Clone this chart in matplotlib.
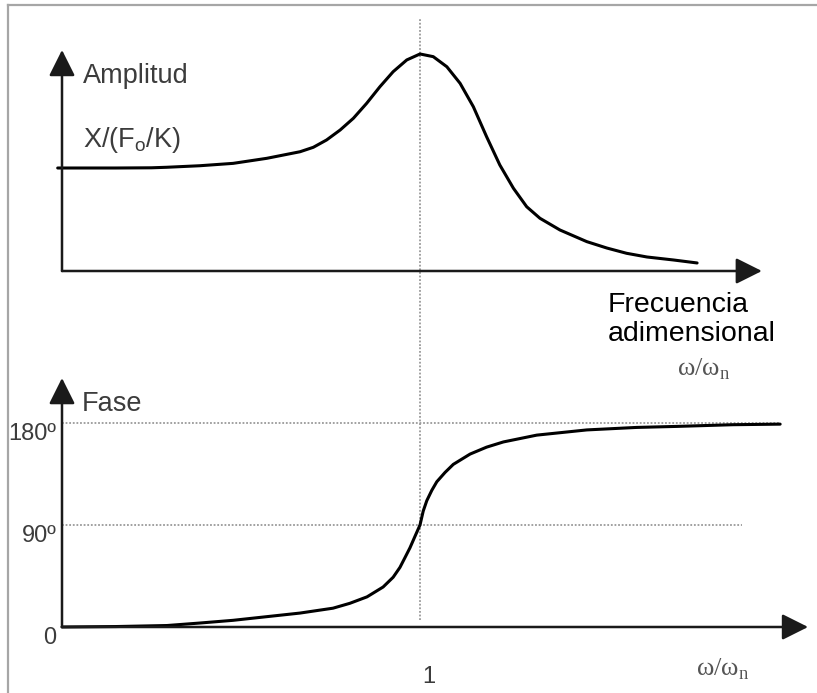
import numpy as np
import matplotlib.pyplot as plt
from matplotlib.lines import Line2D

plt.rcParams['font.family'] = ['Liberation Sans', 'DejaVu Sans']
plt.rcParams['mathtext.fontset'] = 'custom'
plt.rcParams['mathtext.rm'] = 'Liberation Serif'
plt.rcParams['mathtext.sf'] = 'Liberation Sans'

# amplitude X/(Fo/K) against omega/omega_n
amp_w = [-0.012, 0.15, 0.25, 0.292, 0.385, 0.478, 0.572, 0.665, 0.702, 0.739,
         0.777, 0.814, 0.851, 0.888, 0.925, 0.963, 1.0, 1.037, 1.075, 1.112,
         1.149, 1.186, 1.223, 1.261, 1.298, 1.335, 1.391, 1.466, 1.522, 1.577,
         1.634, 1.708, 1.774]
amp_x = [1.0, 1.0, 1.002, 1.007, 1.022, 1.045, 1.094, 1.158, 1.201, 1.272,
         1.369, 1.483, 1.628, 1.789, 1.935, 2.049, 2.107, 2.081, 1.983, 1.822,
         1.595, 1.304, 1.029, 0.803, 0.624, 0.512, 0.398, 0.285, 0.223, 0.172,
         0.136, 0.107, 0.078]

# phase angle in degrees
fase_w = [0.0, 0.15, 0.293, 0.385, 0.478, 0.665, 0.757, 0.804, 0.852, 0.897,
          0.925, 0.944, 0.958, 0.972, 0.986, 1.0, 1.009, 1.019, 1.033, 1.047,
          1.070, 1.093, 1.14, 1.186, 1.233, 1.326, 1.466, 1.605, 1.717, 1.874,
          2.006]
fase_deg = [0.0, 0.4, 1.3, 3.5, 5.9, 12.3, 16.6, 20.9, 26.6, 35.3,
            43.9, 52.6, 61.2, 69.9, 80.0, 90.0, 102.3, 111.5, 120.6, 128.2,
            136.4, 143.5, 152.6, 158.7, 163.3, 169.3, 173.9, 176.1, 177.0, 178.5,
            179.0]

fase_ticks = [0, 90, 180]
fase_labels = ['0', '90º', '180º']

W, H = 817, 693
fig = plt.figure(figsize=(W / 100, H / 100), dpi=100)

def px(x, y):
    return x / W, 1 - y / H

ink = '#1a1a1a'
grey_txt = '#3c3c3c'
grid_kw = dict(color='#9a9a9a', lw=1.3, ls=(0, (1, 1)))
arrow_kw = dict(arrowstyle='-|>,head_length=1.0,head_width=0.5', mutation_scale=16,
                lw=1.8, color=ink, shrinkA=0, shrinkB=0)

# top panel: amplitude
ax1 = fig.add_axes([0, 347 / H, 1, 346 / H])
ax1.set_xlim(-62 / 358, (W - 62) / 358)
ax1.set_ylim((271 - 346) / 103, 271 / 103)
ax1.axis('off')
ax1.axvline(1, ymin=0, ymax=0.948, **grid_kw)
ax1.annotate('', xy=(1.955, 0), xytext=(0, 0), arrowprops=arrow_kw)
ax1.annotate('', xy=(0, 2.146), xytext=(0, 0), arrowprops=arrow_kw)
ax1.plot(amp_w, amp_x, color='black', lw=2.2, solid_capstyle='round',
         solid_joinstyle='round')

# bottom panel: phase
ax2 = fig.add_axes([0, 0, 1, 347 / H])
ax2.set_xlim(-62 / 358, (W - 62) / 358)
ax2.set_ylim((627 - 693) / 1.1333, (627 - 346) / 1.1333)
ax2.axis('off')
ax2.axvline(1, ymin=0.21, ymax=1, **grid_kw)
ax2.plot([0, 2.006], [180, 180], **grid_kw)
ax2.plot([0, 1.9], [90, 90], **grid_kw)
ax2.annotate('', xy=(2.084, 0), xytext=(0, 0), arrowprops=arrow_kw)
ax2.annotate('', xy=(0, 219.7), xytext=(0, 0), arrowprops=arrow_kw)
ax2.plot(fase_w, fase_deg, color='black', lw=2.2, solid_capstyle='round',
         solid_joinstyle='round')
for t, lab in zip(fase_ticks, fase_labels):
    ax2.annotate(lab, xy=(0, t), xytext=(-4, -12), textcoords='offset points',
                 ha='right', va='baseline', fontsize=17, color=grey_txt)
ax2.annotate('1', xy=(1, 0), xytext=(6, -40), textcoords='offset points',
             ha='center', va='baseline', fontsize=17, color=grey_txt)

# labels
omega = r'$\mathrm{ω/ω}_{\mathrm{n}}$'
fig.text(*px(83, 83), 'Amplitud', fontsize=19.5, color=grey_txt, va='baseline')
fig.text(*px(83, 147), r'$\mathsf{X/(F}_{\mathsf{o}}\mathsf{/K)}$', fontsize=19.5,
         color=grey_txt, va='baseline')
fig.text(*px(608, 312), 'Frecuencia', fontsize=20.5, color='black', va='baseline')
fig.text(*px(608, 341), 'adimensional', fontsize=20.5, color='black', va='baseline')
fig.text(*px(677, 375), omega, fontsize=19, color='#555555', va='baseline')
fig.text(*px(82, 411), 'Fase', fontsize=19.5, color=grey_txt, va='baseline')
fig.text(*px(696, 675), omega, fontsize=19, color='#555555', va='baseline')

# outer frame (left and top edges only)
frame_kw = dict(color='#a6a6a6', lw=1.6, transform=fig.transFigure)
fig.add_artist(Line2D([8 / W, 8 / W], [0, 1 - 5 / H], **frame_kw))
fig.add_artist(Line2D([8 / W, 1], [1 - 5 / H, 1 - 5 / H], **frame_kw))

fig.savefig('out.png', dpi=100, facecolor='white')
